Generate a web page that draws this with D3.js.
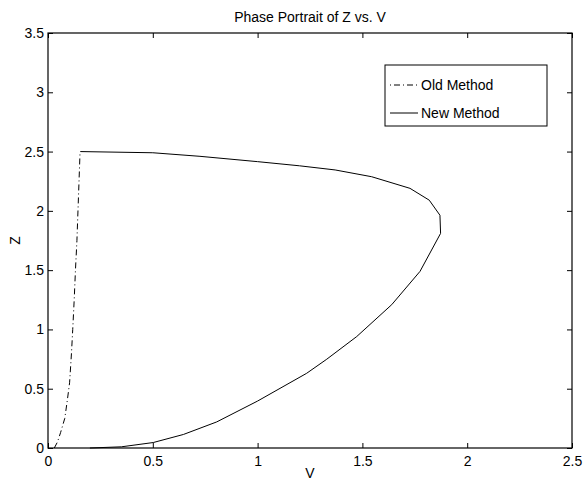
<!DOCTYPE html>
<html><head><meta charset="utf-8">
<script src="https://cdn.jsdelivr.net/npm/d3@7"></script>
<style>
body{margin:0;background:#fff;}
text{font-family:"Liberation Sans",Arial,Helvetica,sans-serif;fill:#000;}
</style></head>
<body><svg id="c" width="584" height="481"></svg>
<script>
const xTicks = [0, 0.5, 1, 1.5, 2, 2.5];
const yTicks = [0, 0.5, 1, 1.5, 2, 2.5, 3, 3.5];
const oldV = [0.03, 0.045, 0.06, 0.08, 0.092, 0.103, 0.112, 0.118, 0.125, 0.131, 0.138, 0.143, 0.148, 0.153];
const oldZ = [0.0, 0.05, 0.13, 0.25, 0.4, 0.55, 0.8, 1.0, 1.25, 1.5, 1.75, 2.0, 2.25, 2.5];
const newV = [0.154, 0.5, 0.725, 1.0, 1.2, 1.37, 1.544, 1.727, 1.819, 1.870, 1.873, 1.775, 1.64, 1.473, 1.33, 1.234, 1.0, 0.805, 0.646, 0.502, 0.35, 0.2];
const newZ = [2.5, 2.49, 2.46, 2.415, 2.38, 2.345, 2.288, 2.19, 2.09, 1.963, 1.81, 1.49, 1.209, 0.94, 0.749, 0.63, 0.396, 0.22, 0.114, 0.046, 0.01, 0.0];
const legendLabels = ["Old Method", "New Method"];

const svg = d3.select("#c");
const L = 48, R = 572, T = 33, B = 448;
const x = d3.scaleLinear().domain([0, 2.5]).range([L, R]);
const y = d3.scaleLinear().domain([0, 3.5]).range([B, T]);

const g = svg.append("g");
const fs = "14px";
function styleAxis(sel){
  sel.select(".domain").remove();
  sel.selectAll("line").attr("stroke","#000").attr("stroke-width",1);
  sel.selectAll("text").style("font-size",fs).style("font-family","Liberation Sans, Arial, sans-serif");
}
g.append("g").attr("transform",`translate(0,${B})`)
  .call(d3.axisBottom(x).tickValues(xTicks).tickFormat(d3.format("")).tickSizeInner(-5).tickSizeOuter(0).tickPadding(8))
  .call(styleAxis);
g.append("g").attr("transform",`translate(0,${T})`)
  .call(d3.axisTop(x).tickValues(xTicks).tickFormat("").tickSizeInner(-5).tickSizeOuter(0))
  .call(styleAxis);
g.append("g").attr("transform",`translate(${L},0)`)
  .call(d3.axisLeft(y).tickValues(yTicks).tickFormat(d3.format("")).tickSizeInner(-5).tickSizeOuter(0).tickPadding(4))
  .call(styleAxis);
g.append("g").attr("transform",`translate(${R},0)`)
  .call(d3.axisRight(y).tickValues(yTicks).tickFormat("").tickSizeInner(-5).tickSizeOuter(0))
  .call(styleAxis);
g.append("rect").attr("x",L).attr("y",T).attr("width",R-L).attr("height",B-T)
  .attr("fill","none").attr("stroke","#000").attr("stroke-width",1.2);

const line = d3.line().x(d=>x(d[0])).y(d=>y(d[1]));
const oldPts = oldV.map((v,i)=>[v, oldZ[i]]);
const newPts = newV.map((v,i)=>[v, newZ[i]]);
g.append("path").attr("d", line(oldPts)).attr("fill","none").attr("stroke","#000")
  .attr("stroke-width",1).attr("stroke-dasharray","6,3,1,3");
g.append("path").attr("d", line(newPts)).attr("fill","none").attr("stroke","#000")
  .attr("stroke-width",1);

svg.append("text").attr("x",(L+R)/2).attr("y",22).attr("text-anchor","middle").style("font-size",fs).text("Phase Portrait of Z vs. V");
svg.append("text").attr("x",(L+R)/2).attr("y",478).attr("text-anchor","middle").style("font-size",fs).text("V");
svg.append("text").attr("transform",`translate(20,${(T+B)/2}) rotate(-90)`).attr("text-anchor","middle").style("font-size",fs).text("Z");

const lg = svg.append("g");
lg.append("rect").attr("x",385).attr("y",65).attr("width",162).attr("height",61)
  .attr("fill","#fff").attr("stroke","#000").attr("stroke-width",1);
const ly = [85, 113];
legendLabels.forEach((lab,i)=>{
  lg.append("line").attr("x1",390).attr("x2",418).attr("y1",ly[i]).attr("y2",ly[i])
    .attr("stroke","#000").attr("stroke-width",1).attr("stroke-dasharray", i===0 ? "1,3,6,3" : null);
  lg.append("text").attr("x",421).attr("y",ly[i]+5).style("font-size",fs).text(lab);
});
</script></body></html>
